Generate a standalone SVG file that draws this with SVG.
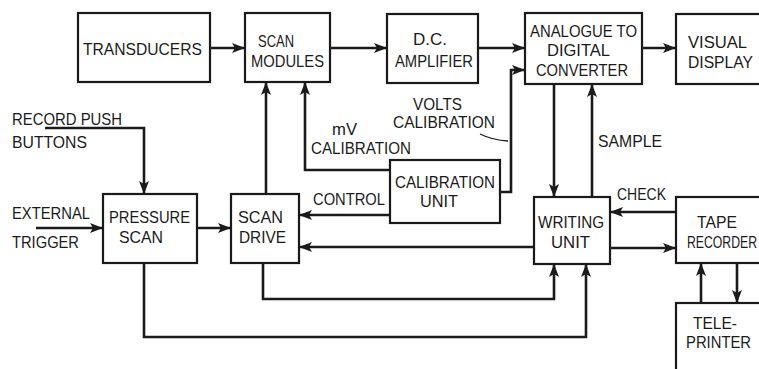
<svg xmlns="http://www.w3.org/2000/svg" width="759" height="369" viewBox="0 0 759 369">
<defs>
<marker id="ah" markerUnits="userSpaceOnUse" markerWidth="13" markerHeight="10" refX="12" refY="5" orient="auto">
<path d="M0,0 L13,5 L0,10 L3,5 Z" fill="#1a1a1a"/>
</marker>
<style>
.box{fill:#fff;stroke:#1a1a1a;stroke-width:2.2}
.ar{fill:none;stroke:#1a1a1a;stroke-width:2.6;marker-end:url(#ah)}
.thin{fill:none;stroke:#1a1a1a;stroke-width:1.3}
text{font-family:"Liberation Sans",Arial,sans-serif;font-size:17px;fill:#1a1a1a}
</style>
</defs>
<rect width="759" height="369" fill="#fff"/>
<g id="connectors">
<path class="ar" d="M210,48 L244,48"/>
<path class="ar" d="M330,48 L386,48"/>
<path class="ar" d="M478,48 L524,48"/>
<path class="ar" d="M642,48 L675,48"/>
<path class="ar" d="M500,192 L511,192 L511,70 L524,70"/>
<path class="thin" d="M480,134 Q492,140 508,141"/>
<path class="ar" d="M390,170 L305,170 L305,83"/>
<path class="ar" d="M390,215 L300,215"/>
<path class="ar" d="M266,193 L266,83"/>
<path class="ar" d="M45,128 L144,128 L144,193"/>
<path class="ar" d="M36,228 L102,228"/>
<path class="ar" d="M197,228 L230,228"/>
<path class="ar" d="M534,247 L300,247"/>
<path class="ar" d="M263,264 L263,299 L554,299 L554,265"/>
<path class="ar" d="M144,264 L144,337 L586,337 L586,265"/>
<path class="ar" d="M554,84 L554,196"/>
<path class="ar" d="M592,197 L592,85"/>
<path class="ar" d="M676,212 L611,212"/>
<path class="ar" d="M610,248 L675,248"/>
<path class="ar" d="M701,303 L701,264"/>
<path class="ar" d="M737,263 L737,302"/>
</g>
<g id="transducers"><rect class="box" x="78" y="13" width="132" height="69"/><text x="83" y="55" textLength="119" lengthAdjust="spacingAndGlyphs">TRANSDUCERS</text></g>
<g id="scan-modules"><rect class="box" x="245" y="13" width="85" height="69"/><text x="258" y="47" textLength="36" lengthAdjust="spacingAndGlyphs">SCAN</text><text x="251" y="67" textLength="73" lengthAdjust="spacingAndGlyphs">MODULES</text></g>
<g id="dc-amplifier"><rect class="box" x="387" y="14" width="91" height="69"/><text x="413" y="45" textLength="34" lengthAdjust="spacingAndGlyphs">D.C.</text><text x="395" y="67" textLength="78" lengthAdjust="spacingAndGlyphs">AMPLIFIER</text></g>
<g id="adc"><rect class="box" x="525" y="13" width="117" height="71"/><text x="530" y="37" textLength="107" lengthAdjust="spacingAndGlyphs">ANALOGUE TO</text><text x="547" y="56" textLength="63" lengthAdjust="spacingAndGlyphs">DIGITAL</text><text x="536" y="76" textLength="92" lengthAdjust="spacingAndGlyphs">CONVERTER</text></g>
<g id="visual-display"><rect class="box" x="676" y="14" width="90" height="70"/><text x="688" y="48" textLength="59" lengthAdjust="spacingAndGlyphs">VISUAL</text><text x="688" y="68" textLength="65" lengthAdjust="spacingAndGlyphs">DISPLAY</text></g>
<g id="record-push-buttons"><text x="12" y="125" textLength="110" lengthAdjust="spacingAndGlyphs">RECORD PUSH</text><text x="12" y="148" textLength="75" lengthAdjust="spacingAndGlyphs">BUTTONS</text></g>
<g id="mv-calibration"><text x="332" y="135" textLength="25" lengthAdjust="spacingAndGlyphs">mV</text><text x="311" y="154" textLength="100" lengthAdjust="spacingAndGlyphs">CALIBRATION</text></g>
<g id="volts-calibration"><text x="413" y="110" textLength="49" lengthAdjust="spacingAndGlyphs">VOLTS</text><text x="393" y="128" textLength="102" lengthAdjust="spacingAndGlyphs">CALIBRATION</text></g>
<g id="calibration-unit"><rect class="box" x="390" y="160" width="110" height="63"/><text x="395" y="188" textLength="100" lengthAdjust="spacingAndGlyphs">CALIBRATION</text><text x="420" y="207" textLength="38" lengthAdjust="spacingAndGlyphs">UNIT</text></g>
<g id="sample-label"><text x="598" y="147" textLength="64" lengthAdjust="spacingAndGlyphs">SAMPLE</text></g>
<g id="check-label"><text x="617" y="200" textLength="49" lengthAdjust="spacingAndGlyphs">CHECK</text></g>
<g id="control-label"><text x="313" y="205" textLength="72" lengthAdjust="spacingAndGlyphs">CONTROL</text></g>
<g id="external-trigger"><text x="12" y="219" textLength="78" lengthAdjust="spacingAndGlyphs">EXTERNAL</text><text x="12" y="248" textLength="67" lengthAdjust="spacingAndGlyphs">TRIGGER</text></g>
<g id="pressure-scan"><rect class="box" x="103" y="194" width="94" height="69"/><text x="109" y="223" textLength="81" lengthAdjust="spacingAndGlyphs">PRESSURE</text><text x="119" y="243" textLength="44" lengthAdjust="spacingAndGlyphs">SCAN</text></g>
<g id="scan-drive"><rect class="box" x="231" y="194" width="68" height="69"/><text x="238" y="223" textLength="45" lengthAdjust="spacingAndGlyphs">SCAN</text><text x="239" y="243" textLength="47" lengthAdjust="spacingAndGlyphs">DRIVE</text></g>
<g id="writing-unit"><rect class="box" x="534" y="197" width="76" height="67"/><text x="538" y="228" textLength="66" lengthAdjust="spacingAndGlyphs">WRITING</text><text x="551" y="248" textLength="39" lengthAdjust="spacingAndGlyphs">UNIT</text></g>
<g id="tape-recorder"><rect class="box" x="676" y="197" width="90" height="66"/><text x="697" y="228" textLength="40" lengthAdjust="spacingAndGlyphs">TAPE</text><text x="687" y="248" textLength="70" lengthAdjust="spacingAndGlyphs">RECORDER</text></g>
<g id="teleprinter"><rect class="box" x="676" y="303" width="90" height="75"/><text x="693" y="329" textLength="44" lengthAdjust="spacingAndGlyphs">TELE-</text><text x="686" y="348" textLength="65" lengthAdjust="spacingAndGlyphs">PRINTER</text></g>
</svg>
